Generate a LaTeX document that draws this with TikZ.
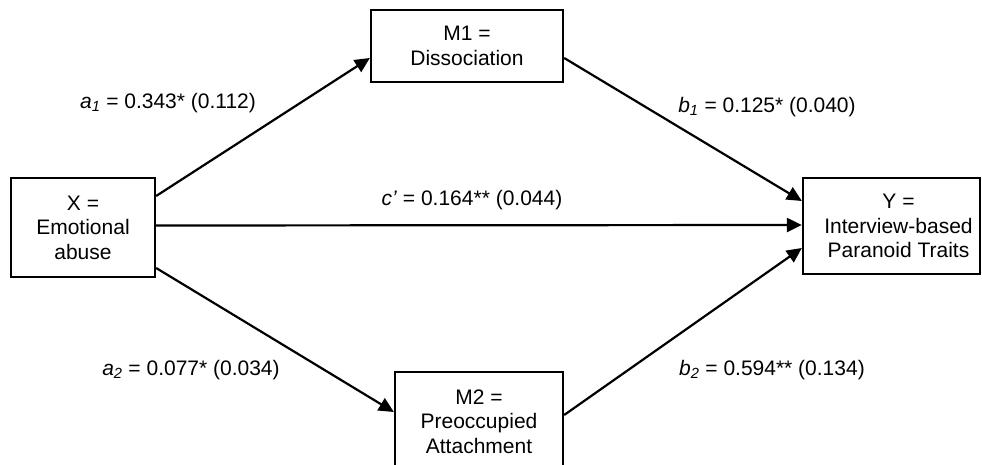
\documentclass[tikz,border=0pt]{standalone}
\usepackage{fontspec}
\setmainfont{Liberation Sans}
\usetikzlibrary{arrows.meta}
\begin{document}
\begin{tikzpicture}[x=1pt,y=-1pt,
  varbox/.style={draw, line width=2.3pt, inner sep=0pt, align=center,
    font=\fontsize{21}{24.5}\selectfont},
  path/.style={line width=2.2pt, -{Triangle[length=15pt,width=14pt]}},
  coef/.style={font=\fontsize{21}{24.5}\selectfont, inner sep=0pt}]
\useasboundingbox (0,0) rectangle (982,465);
\node[varbox, minimum width=144pt, minimum height=99pt] (X) at (83,227.5) {X =\\Emotional\\abuse};
\node[varbox, minimum width=192pt, minimum height=72pt] (M1) at (467,46) {M1 =\\Dissociation};
\node[varbox, minimum width=168pt, minimum height=99pt] (M2) at (479,421.5) {M2 =\\Preoccupied\\Attachment};
\node[varbox, minimum width=177pt, minimum height=96pt] (Y) at (891.5,226) {\hspace*{14pt}Y =\\\hspace*{14pt}Interview-based\\\hspace*{14pt}Paranoid Traits};
\draw[path] ([yshift=31.5pt]X.east) -- ([yshift=-12pt]M1.west);
\draw[path] ([yshift=-40.5pt]X.east) -- ([yshift=9.5pt]M2.west);
\draw[path] ([yshift=2pt]X.east) -- ([yshift=1pt]Y.west);
\draw[path] ([yshift=-12pt]M1.east) -- ([yshift=25pt]Y.west);
\draw[path] ([yshift=6.5pt]M2.east) -- ([yshift=-22pt]Y.west);
\node[coef] (la1) at (168,103) {\textit{a}\textsubscript{\textit{1}} = 0.343* (0.112)};
\node[coef] (lb1) at (767,107) {\textit{b}\textsubscript{\textit{1}} = 0.125* (0.040)};
\node[coef] (lc) at (472,200) {\textit{c’} = 0.164** (0.044)};
\node[coef] (la2) at (191,370) {\textit{a}\textsubscript{\textit{2}} = 0.077* (0.034)};
\node[coef] (lb2) at (772,370) {\textit{b}\textsubscript{\textit{2}} = 0.594** (0.134)};
\end{tikzpicture}
\end{document}
